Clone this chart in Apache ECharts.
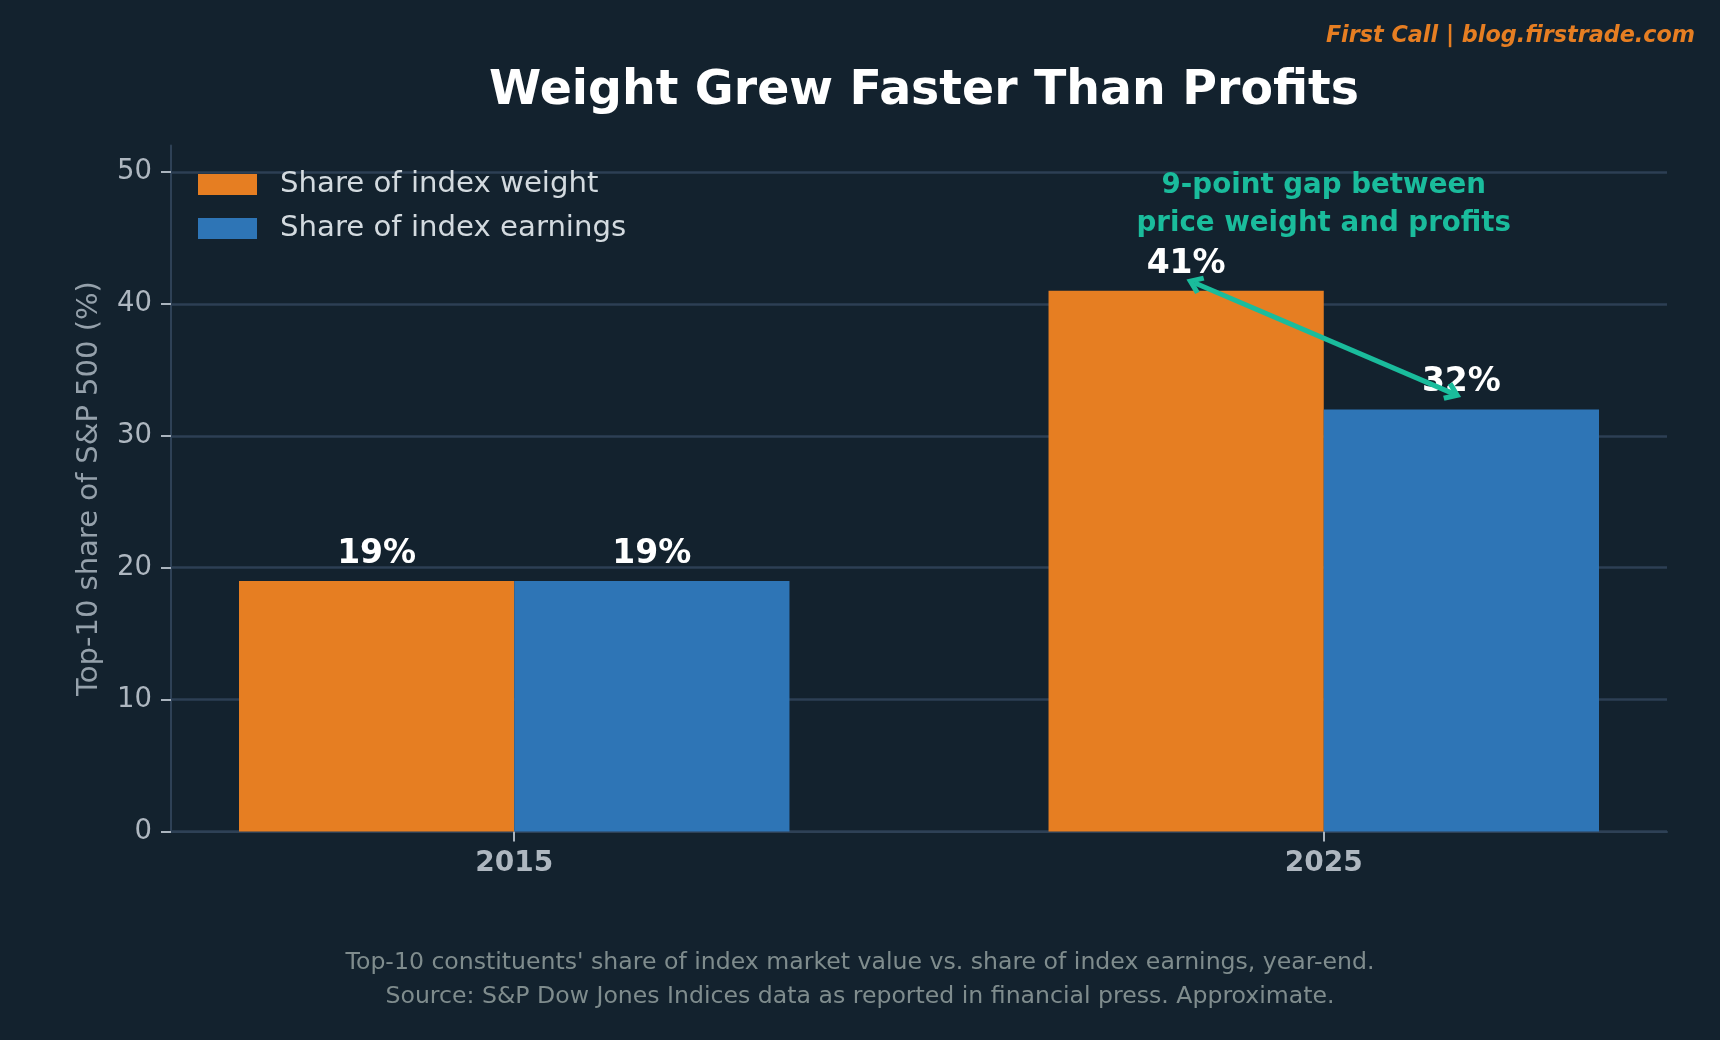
<!DOCTYPE html>
<html lang="en">
  <head>
    <meta charset="UTF-8" />
    <title>Weight Grew Faster Than Profits</title>
    <script src="https://cdn.jsdelivr.net/npm/echarts/dist/echarts.min.js"></script>
    <style>
      html, body { margin: 0; padding: 0; background: #13222e; }
      #chart { width: 1720px; height: 1040px; }
    </style>
  </head>
  <body>
    <div id="chart"></div>
    <script>
      // data
      const years = ["2015", "2025"];
      const weightShare = [19, 41];
      const earningsShare = [19, 32];
      const yTicks = [0, 10, 20, 30, 40, 50];
      const gapArrow = [[0.84, 41.6], [1.16, 33.2]];
      const gapNote = ["9-point gap between", "price weight and profits"];
      const captionLines = [
        "Top-10 constituents' share of index market value vs. share of index earnings, year-end.",
        "Source: S&P Dow Jones Indices data as reported in financial press. Approximate.",
      ];

      const FONT = "DejaVu Sans";
      const xMin = -0.424, xMax = 1.424;
      const half = 0.17;
      const gridLeft = 171, gridRight = 53;
      const gridWidth = 1720 - gridLeft - gridRight;
      const barPx = (2 * half) / (xMax - xMin) * gridWidth;
      const chevron = "path://M5,0 L10,7 L8,8.6 L5,4.4 L2,8.6 L0,7 Z";

      var chart = echarts.init(document.getElementById("chart"));

      const barLabel = {
        show: true,
        position: "top",
        distance: 10,
        color: "#ffffff",
        fontFamily: FONT,
        fontWeight: "bold",
        fontSize: 33,
        formatter: (p) => p.value[1] + "%",
      };

      var option = {
        backgroundColor: "#13222e",
        animation: false,
        title: [
          {
            text: "Weight Grew Faster Than Profits",
            left: 919,
            top: 63,
            textAlign: "center",
            textStyle: { color: "#ffffff", fontFamily: FONT, fontWeight: "bold", fontSize: 47.4 },
          },
          {
            text: "First Call | blog.firstrade.com",
            right: 20,
            top: 20,
            textStyle: {
              color: "#e67e22", fontFamily: FONT, fontWeight: "bold",
              fontStyle: "italic", fontSize: 22.3,
            },
          },
        ],
        legend: {
          orient: "vertical",
          left: 193,
          top: 165,
          itemWidth: 59,
          itemHeight: 21,
          itemGap: 15,
          icon: "rect",
          textStyle: { color: "#d3dadf", fontFamily: FONT, fontSize: 29.2, lineHeight: 28, padding: [0, 0, 0, 18] },
          data: ["Share of index weight", "Share of index earnings"],
        },
        grid: { left: gridLeft, right: gridRight, top: 145.6, bottom: 208.5 },
        xAxis: {
          type: "value",
          min: xMin,
          max: xMax,
          axisLine: { onZero: false, lineStyle: { color: "#2e4156", width: 2 } },
          axisTick: { customValues: [0, 1], length: 10, lineStyle: { color: "#aab4be", width: 2 } },
          axisLabel: {
            customValues: [0, 1],
            margin: 18,
            color: "#aeb7c0",
            fontFamily: FONT,
            fontWeight: "bold",
            fontSize: 28,
            formatter: (v) => years[Math.round(v)],
          },
          splitLine: { show: false },
        },
        yAxis: {
          type: "value",
          min: 0,
          max: 52,
          name: "Top-10 share of S&P 500 (%)",
          nameLocation: "middle",
          nameGap: 67,
          nameTextStyle: { color: "#95a1ab", fontFamily: FONT, fontSize: 29 },
          axisLine: { show: true, onZero: false, lineStyle: { color: "#2e4156", width: 2 } },
          axisTick: { show: true, customValues: yTicks, length: 10, lineStyle: { color: "#aab4be", width: 2 } },
          axisLabel: {
            customValues: yTicks,
            margin: 19,
            color: "#aeb7c0",
            fontFamily: FONT,
            fontSize: 27.5,
          },
          splitLine: { show: true, lineStyle: { color: "#2d3f54", width: 2.5 } },
        },
        series: [
          {
            name: "Share of index weight",
            type: "bar",
            barWidth: barPx,
            barGap: "-100%",
            itemStyle: { color: "#e67e22" },
            label: barLabel,
            data: weightShare.map((v, i) => [i - half, v]),
          },
          {
            name: "Share of index earnings",
            type: "bar",
            barWidth: barPx,
            barGap: "-100%",
            itemStyle: { color: "#2e75b6" },
            label: barLabel,
            data: earningsShare.map((v, i) => [i + half, v]),
            markLine: {
              silent: true,
              symbol: [chevron, chevron],
              symbolSize: [20, 17],
              label: { show: false },
              lineStyle: { color: "#1abc9c", width: 5, type: "solid" },
              data: [[{ coord: gapArrow[0] }, { coord: gapArrow[1] }]],
            },
            markPoint: {
              silent: true,
              symbol: "circle",
              symbolSize: 0,
              label: {
                show: true,
                position: "inside",
                color: "#1abc9c",
                fontFamily: FONT,
                fontWeight: "bold",
                fontSize: 27.7,
                lineHeight: 38.5,
                align: "center",
                formatter: gapNote.join("\n"),
              },
              data: [{ coord: [1, 47.5] }],
            },
          },
        ],
        graphic: captionLines.map((t, i) => ({
          type: "text",
          left: "center",
          top: 951 + i * 34,
          silent: true,
          style: { text: t, fill: "#7f8c8d", font: "23.6px " + FONT },
        })),
      };

      option && chart.setOption(option);
    </script>
  </body>
</html>
